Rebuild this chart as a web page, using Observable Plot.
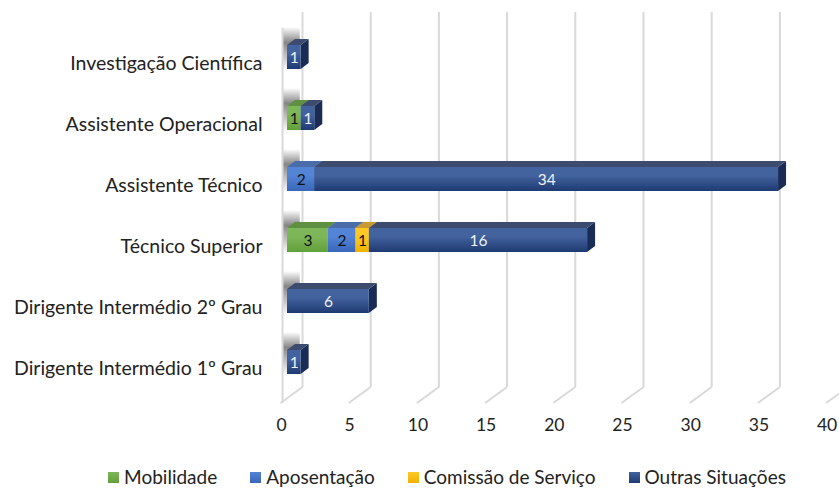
<!DOCTYPE html>
<html><head><meta charset="utf-8">
<script src="https://cdn.jsdelivr.net/npm/d3@7"></script>
<script src="https://cdn.jsdelivr.net/npm/@observablehq/plot@0.6"></script>
<style>
body{margin:0;background:#fff;font-family:Lato,sans-serif;}
#chart svg{display:block;}
#legend{display:flex;justify-content:center;gap:33px;padding-left:55px;height:28px;padding-top:1px;align-items:center;font-size:19px;line-height:22px;color:#222;}
#legend .item{display:flex;align-items:center;}
#legend .sw{width:11px;height:11px;margin-right:5px;display:inline-block;}
</style></head><body>
<div id="chart"></div>
<div id="legend"></div>
<script>
const categories = ["Investigação Científica","Assistente Operacional","Assistente Técnico","Técnico Superior","Dirigente Intermédio 2º Grau","Dirigente Intermédio 1º Grau"];
const seriesNames = ["Mobilidade","Aposentação","Comissão de Serviço","Outras Situações"];
const mobilidade  = [0,1,0,3,0,0];
const aposentacao = [0,0,2,2,0,0];
const comissao    = [0,0,0,1,0,0];
const outras      = [1,1,34,16,6,1];
const xTicks = [0,5,10,15,20,25,30,35,40];

const frontTop    = ["#7EB65A","#5384D6","#FFC824","#43639F"];
const frontBottom = ["#62A03A","#3966B8","#F0B200","#1E3A72"];
const topFace     = ["#5F8F40","#4A6CA9","#C99A30","#3C4B6E"];
const sideFace    = ["#4A7A2E","#2D5394","#B88B0A","#1A2C56"];
const labelColor  = ["#111","#111","#111","#EEF1F7"];

const seriesValues = [mobilidade, aposentacao, comissao, outras];
const rows = [];
categories.forEach((c,i)=>{
  let acc = 0;
  seriesValues.forEach((vals,s)=>{
    const v = vals[i];
    if (v > 0) { rows.push({cat:c, s, v, x1:acc, x2:acc+v}); acc += v; }
  });
});

const ns = "http://www.w3.org/2000/svg";
const defsSvg = document.createElementNS(ns,"svg");
defsSvg.setAttribute("width",0); defsSvg.setAttribute("height",0);
defsSvg.style.position="absolute";
let defsHtml = "<defs>";
seriesNames.forEach((_,s)=>{
  defsHtml += `<linearGradient id="g${s}" x1="0" y1="0" x2="0" y2="1"><stop offset="0" stop-color="${frontTop[s]}"/><stop offset="0.35" stop-color="${frontTop[s]}"/><stop offset="1" stop-color="${frontBottom[s]}"/></linearGradient>`;
});
defsHtml += `<linearGradient id="shadow" x1="0" y1="0" x2="0" y2="1"><stop offset="0" stop-color="#707070" stop-opacity="0"/><stop offset="0.35" stop-color="#707070" stop-opacity="0.85"/><stop offset="0.7" stop-color="#909090" stop-opacity="0.5"/><stop offset="1" stop-color="#a0a0a0" stop-opacity="0"/></linearGradient>`;
defsHtml += "</defs>";
defsSvg.innerHTML = defsHtml;
document.body.insertBefore(defsSvg, document.body.firstChild);

const D = 8, H = 6;
function facesRender(index, scales, values, dimensions, context, next) {
  const g = next(index, scales, values, dimensions, context);
  const rects = Array.from(g.querySelectorAll("rect"));
  const sides = document.createElementNS(ns,"g");
  const tops = document.createElementNS(ns,"g");
  rects.forEach((r,k)=>{
    const d = rows[index[k]];
    const x=+r.getAttribute("x"), y=+r.getAttribute("y"), w=+r.getAttribute("width"), h=+r.getAttribute("height");
    const side = document.createElementNS(ns,"path");
    side.setAttribute("d",`M${x+w},${y}L${x+w+D},${y-H}L${x+w+D},${y+h-H}L${x+w},${y+h}Z`);
    side.setAttribute("fill", sideFace[d.s]);
    sides.appendChild(side);
    const top = document.createElementNS(ns,"path");
    top.setAttribute("d",`M${x},${y}L${x+D},${y-H}L${x+w+D},${y-H}L${x+w},${y}Z`);
    top.setAttribute("fill", topFace[d.s]);
    tops.appendChild(top);
    r.remove();
  });
  g.appendChild(sides); g.appendChild(tops);
  return g;
}
function floorRender(index, scales, values, dimensions, context, next) {
  const g = next(index, scales, values, dimensions, context);
  g.querySelectorAll("line").forEach(l=>{
    const x = +l.getAttribute("x1");
    const yb = dimensions.height - dimensions.marginBottom - 8;
    l.setAttribute("x1", x+15); l.setAttribute("y1", yb);
    l.setAttribute("x2", x-7); l.setAttribute("y2", yb+16);
  });
  return g;
}

const W = 839, HGT = 462;
const chart = Plot.plot({
  width: W, height: HGT,
  marginLeft: 287, marginRight: 6.4, marginTop: 24, marginBottom: 67,
  x: {domain:[0,40], axis:null},
  y: {domain: categories, axis:null, paddingInner:0.6, paddingOuter:0.3},
  style: {fontFamily:'Lato,sans-serif', background:"#fff"},
  marks: [
    Plot.barX(categories, {y: d=>d, x1: 0, x2: 1.3, dx: -5, dy: -4, insetTop: -14, insetBottom: -6, fill: "url(#shadow)"}),
    Plot.ruleX(xTicks, {x: d=>d, dx: 15, dy: -8, insetTop: -4, stroke: "#D9D9D9", strokeWidth: 2}),
    Plot.ruleX([0], {x: d=>d, dx: -5, dy: 8, insetTop: -4, stroke: "#D9D9D9", strokeWidth: 2}),
    Plot.ruleX(xTicks, {x: d=>d, stroke: "#D9D9D9", strokeWidth: 2, render: floorRender}),
    Plot.barX(rows, {x1:"x1", x2:"x2", y:"cat", fill:"#000", render: facesRender}),
    ...seriesNames.map((_,s)=>Plot.barX(rows.filter(r=>r.s===s), {x1:"x1", x2:"x2", y:"cat", fill:`url(#g${s})`})),
    ...seriesNames.map((_,s)=>Plot.text(rows.filter(r=>r.s===s), {x: d=>(d.x1+d.x2)/2, y:"cat", text: d=>String(d.v), fill: labelColor[s], fontSize: 15.5, dy: 1})),
    Plot.text(categories, {y: d=>d, frameAnchor:"left", textAnchor:"end", dx:-25, dy:6, text: d=>d, fill:"#222", fontSize: 19.5}),
    Plot.text(xTicks, {x: d=>d, frameAnchor:"bottom", dx:-6, dy:35, text: d=>String(d), fill:"#222", fontSize: 17.5})
  ]
});
document.getElementById("chart").appendChild(chart);

const legend = document.getElementById("legend");
seriesNames.forEach((n,s)=>{
  const it = document.createElement("div"); it.className="item";
  it.innerHTML = `<span class="sw" style="background:linear-gradient(${frontTop[s]},${frontBottom[s]})"></span><span>${n}</span>`;
  legend.appendChild(it);
});
</script>
</body></html>
